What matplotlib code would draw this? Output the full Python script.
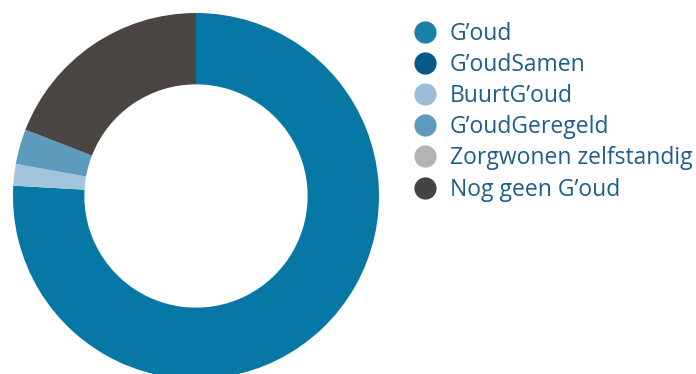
import matplotlib
matplotlib.use('Agg')
from matplotlib import pyplot as plt
from matplotlib.lines import Line2D

labels = ["G\u2019oud", "G\u2019oudSamen", "BuurtG\u2019oud", "G\u2019oudGeregeld",
          "Zorgwonen zelfstandig", "Nog geen G\u2019oud"]
shares = [75.9, 0, 1.9, 3.1, 0, 19.1]
colors = ['#0778a6', '#085a86', '#a3c4dc', '#5d9bbd', '#b4b4b4', '#4a4543']
legend_colors = ['#1a7fa9', '#085a86', '#9bbdd8', '#5f9bbe', '#b4b4b4', '#444444']

fig = plt.figure(figsize=(6.96, 3.74), dpi=100)

# donut, centre at (196, 196) px from top-left, radius 183 px
ax = fig.add_axes([13 / 696, -5 / 374, 366 / 696, 366 / 374])
ax.pie(shares, colors=colors, startangle=90, counterclock=False,
       wedgeprops=dict(width=0.39, edgecolor='none'))
ax.set_xlim(-1, 1)
ax.set_ylim(-1, 1)
ax.axis('off')

handles = [Line2D([], [], marker='o', linestyle='none', markersize=16,
                  markerfacecolor=c, markeredgecolor='none') for c in legend_colors]
leg = fig.legend(handles, labels, loc='upper left', bbox_to_anchor=(411 / 696, 1 - 22 / 374),
                 frameon=False, prop={'family': 'Open Sans', 'size': 16.5},
                 handletextpad=0.5, labelspacing=0.31, borderaxespad=0, borderpad=0,
                 handlelength=1.2)
for t in leg.get_texts():
    t.set_color('#1d5f87')

fig.savefig('out.png', dpi=100)
